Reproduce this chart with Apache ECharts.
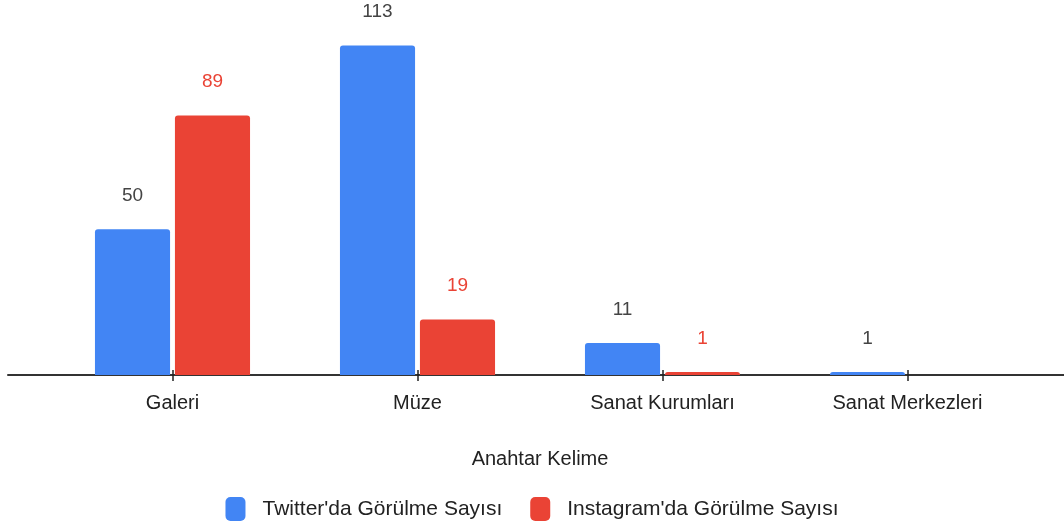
<!DOCTYPE html>
<html>
<head>
<meta charset="utf-8">
<script src="https://cdn.jsdelivr.net/npm/echarts@6/dist/echarts.min.js"></script>
<style>
  html, body { margin: 0; padding: 0; background: #fff; }
  #chart { width: 1064px; height: 526px; }
</style>
</head>
<body>
<div id="chart"></div>
<script>
// kategoriler ve değerler
const categories = ["Galeri", "Müze", "Sanat Kurumları", "Sanat Merkezleri"]
const twitterCounts = [50, 113, 11, 1]
const instagramCounts = [89, 19, 1, null]
const seriesNames = ["Twitter'da Görülme Sayısı", "Instagram'da Görülme Sayısı"]

const FONT = "'Liberation Sans', Arial, sans-serif"
const BLUE = "#4285f4"
const RED = "#ea4335"

const chart = echarts.init(document.getElementById("chart"))

chart.setOption({
  animation: false,
  textStyle: { fontFamily: FONT },
  legend: {
    top: 492,
    left: "center",
    itemWidth: 20,
    itemHeight: 24,
    itemGap: 28,
    icon: "roundRect",
    textStyle: { fontSize: 21, color: "#222", fontFamily: FONT, padding: [0, 0, 0, 12] },
    data: seriesNames
  },
  grid: [
    { left: 50, right: 34, top: 25, bottom: 151 },
    // sadece uzun eksen çizgisi için
    { left: 8, right: 0, top: 25, bottom: 151 }
  ],
  xAxis: [
    {
      type: "category",
      data: categories,
      gridIndex: 0,
      name: "Anahtar Kelime",
      nameLocation: "middle",
      nameGap: 74,
      nameTextStyle: { fontSize: 20, color: "#222", fontFamily: FONT },
      axisLine: { show: false },
      axisTick: { show: true, alignWithLabel: true, length: 6, lineStyle: { color: "#222", width: 1.5 } },
      axisLabel: { margin: 18, fontSize: 20, color: "#222", fontFamily: FONT }
    },
    {
      type: "value",
      gridIndex: 1,
      min: 0,
      max: 1,
      axisLine: { show: true, lineStyle: { color: "#333", width: 2 } },
      axisTick: { show: false },
      axisLabel: { show: false },
      splitLine: { show: false }
    },
    {
      // çizginin üstüne taşan tik parçası
      type: "category",
      data: categories,
      gridIndex: 0,
      position: "bottom",
      axisLine: { show: false },
      axisTick: { show: true, inside: true, alignWithLabel: true, length: 5, lineStyle: { color: "#222", width: 1.5 } },
      axisLabel: { show: false }
    }
  ],
  yAxis: [
    { type: "value", gridIndex: 0, min: 0, max: 120, show: false, splitLine: { show: false } },
    { type: "value", gridIndex: 1, min: 0, max: 1, show: false, splitLine: { show: false } }
  ],
  series: [
    {
      name: seriesNames[0],
      type: "bar",
      data: twitterCounts,
      barGap: "6.5%",
      barCategoryGap: "36.7%",
      itemStyle: { color: BLUE, borderRadius: [3, 3, 0, 0] },
      label: { show: true, position: "top", distance: 24, fontSize: 19, color: "#444", fontFamily: FONT }
    },
    {
      name: seriesNames[1],
      type: "bar",
      data: instagramCounts,
      z: 3,
      itemStyle: { color: RED, borderRadius: [3, 3, 0, 0] },
      label: { show: true, position: "top", distance: 24, fontSize: 19, color: RED, fontFamily: FONT }
    }
  ]
})
</script>
</body>
</html>
